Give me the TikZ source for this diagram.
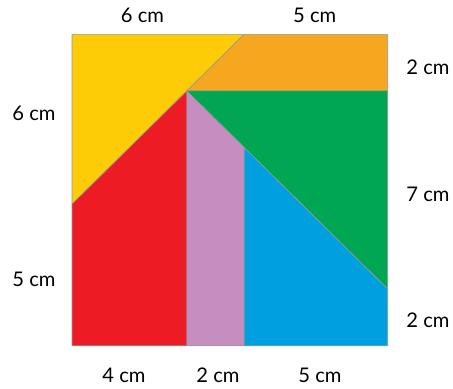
\documentclass[tikz,border=0pt]{standalone}
\usepackage{fontspec}
\setmainfont{Lato}
\usepackage{xcolor}
\usepackage{tikz}

\definecolor{pieceYellow}{HTML}{FECB07}
\definecolor{pieceOrange}{HTML}{F6A61F}
\definecolor{pieceGreen}{HTML}{00A651}
\definecolor{pieceRed}{HTML}{ED1C24}
\definecolor{piecePurple}{HTML}{C68DC0}
\definecolor{pieceBlue}{HTML}{009FDF}
\definecolor{edgeGray}{HTML}{8C9C9A}

\begin{document}
\begin{tikzpicture}[x=1cm, y=0.9865cm,
		piece/.style={draw=edgeGray, line width=0.6pt, line join=round},
		len/.style={inner sep=0pt, font=\fontsize{20}{24}\selectfont}]
			\useasboundingbox (-2.509,-1.494) rectangle (13.275,12.212);
		
			% corners of the pieces
			\coordinate (bl) at (0,0);
			\coordinate (br) at (11,0);
			\coordinate (tl) at (0,11);
			\coordinate (tr) at (11,11);
			\coordinate (ytop) at (6,11);
			\coordinate (yleft) at (0,5);
			\coordinate (apex) at (4,9);
			\coordinate (oright) at (11,9);
			\coordinate (gtip) at (11,2);
			\coordinate (ptop) at (6,7);
			\coordinate (b4) at (4,0);
			\coordinate (b6) at (6,0);
		
			\filldraw[piece, fill=pieceYellow] (tl) -- (ytop) -- (yleft) -- cycle;
			\filldraw[piece, fill=pieceOrange] (ytop) -- (tr) -- (oright) -- (apex) -- cycle;
			\filldraw[piece, fill=pieceGreen] (apex) -- (oright) -- (gtip) -- cycle;
			\filldraw[piece, fill=pieceRed] (bl) -- (b4) -- (apex) -- (yleft) -- cycle;
			\filldraw[piece, fill=piecePurple] (b4) -- (b6) -- (ptop) -- (apex) -- cycle;
			\filldraw[piece, fill=pieceBlue] (b6) -- (br) -- (gtip) -- (ptop) -- cycle;
		
			% lengths
			\node[len] (top6) at (2.456,11.664) {6 cm};
			\node[len] (top5) at (8.457,11.664) {5 cm};
			\node[len] (left6) at (-1.324,8.22) {6 cm};
			\node[len] (left5) at (-1.324,2.356) {5 cm};
			\node[len] (right2a) at (12.404,9.845) {2 cm};
			\node[len] (right7) at (12.404,5.359) {7 cm};
			\node[len] (right2b) at (12.404,0.89) {2 cm};
			\node[len] (bot4) at (1.812,-1.035) {4 cm};
			\node[len] (bot2) at (5.087,-1.035) {2 cm};
			\node[len] (bot5) at (8.641,-1.035) {5 cm};
		\end{tikzpicture}
\end{document}
